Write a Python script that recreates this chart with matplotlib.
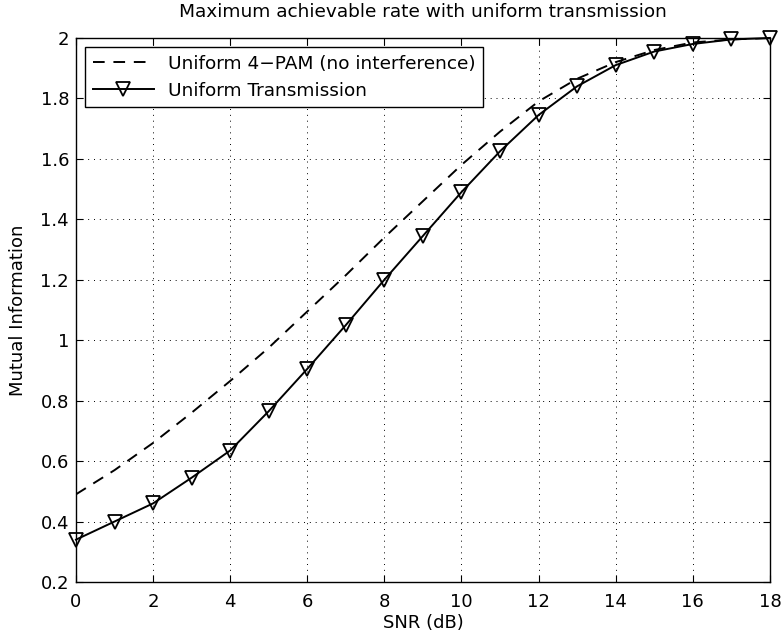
import numpy as np
import matplotlib
matplotlib.use('Agg')
import matplotlib.pyplot as plt

plt.rcParams['font.family'] = ['DejaVu Sans']

snr = np.arange(0, 19)
mi_uniform = [0.34, 0.40, 0.46, 0.545, 0.635, 0.765, 0.905, 1.05, 1.20, 1.345,
              1.49, 1.625, 1.745, 1.84, 1.91, 1.955, 1.98, 1.995, 2.0]
mi_pam = [0.49, 0.57, 0.66, 0.76, 0.865, 0.975, 1.095, 1.215, 1.34, 1.46,
          1.58, 1.69, 1.79, 1.865, 1.92, 1.96, 1.985, 1.995, 2.0]

fig = plt.figure(figsize=(7.84, 6.43), dpi=100)
ax = fig.add_axes([0.0969, 0.0949, 0.8851, 0.8461])

ax.plot(snr, mi_pam, 'k--', lw=1.4, dashes=(6, 4.5), label='Uniform 4\u2212PAM (no interference)')
ax.plot(snr, mi_uniform, 'k-', lw=1.4, marker='v', ms=10, mfc='none', mew=1.3,
        label='Uniform Transmission', clip_on=False, zorder=5)

ax.set_xlim(0, 18)
ax.set_ylim(0.2, 2)
ax.set_xticks(np.arange(0, 19, 2))
ax.set_yticks(np.arange(0.2, 2.01, 0.2))
ax.set_yticklabels(['0.2', '0.4', '0.6', '0.8', '1', '1.2', '1.4', '1.6', '1.8', '2'])
ax.grid(True, ls=(0, (1, 5)), color='k', lw=0.7)
ax.tick_params(direction='in', labelsize=13, length=5, top=True, right=True)
ax.tick_params(axis='x', pad=8)
ax.tick_params(axis='y', pad=5)
for s in ax.spines.values():
    s.set_linewidth(1.0)

ax.set_xlabel('SNR (dB)', fontsize=13, labelpad=2)
ax.set_ylabel('Mutual Information', fontsize=13, labelpad=10)
ax.set_title('Maximum achievable rate with uniform transmission', fontsize=13.3, pad=15)

leg = ax.legend(loc='upper left', fontsize=13.3, fancybox=False, edgecolor='k',
                framealpha=1, handlelength=3.3, borderaxespad=0.5)
leg.get_frame().set_linewidth(1.0)

fig.savefig('out.png', dpi=100)
